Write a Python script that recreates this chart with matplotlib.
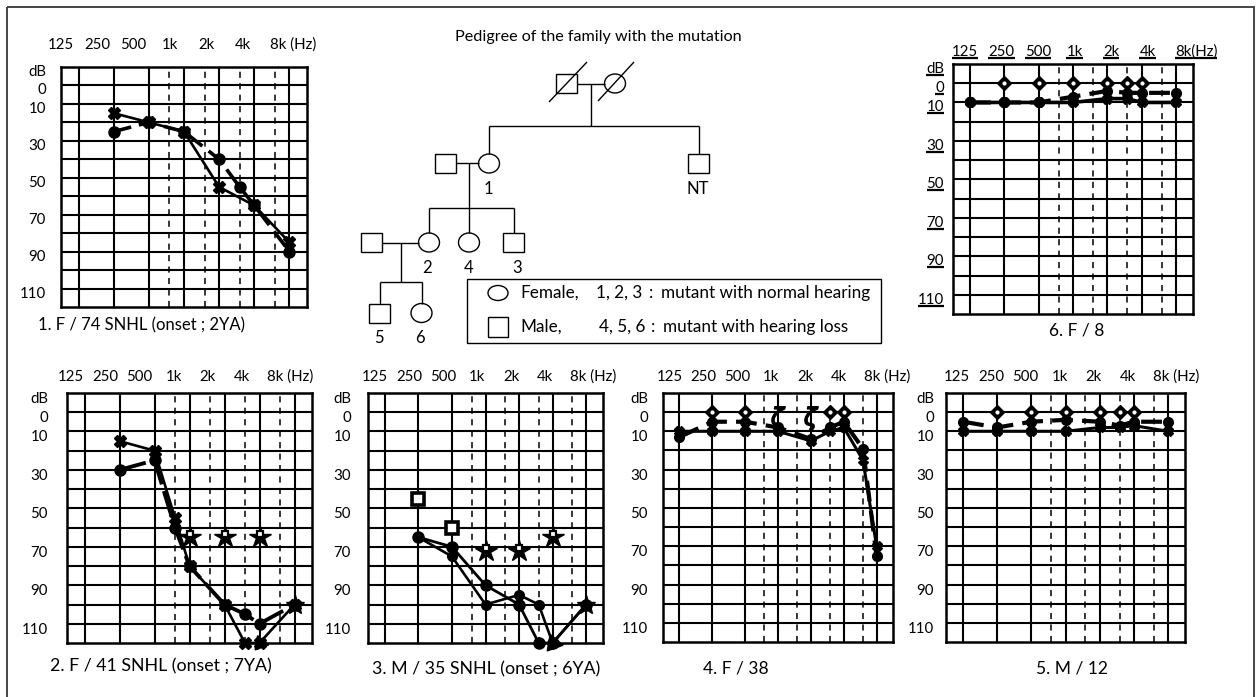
import numpy as np
import matplotlib
matplotlib.use("Agg")
import matplotlib.pyplot as plt
import matplotlib.transforms as mtransforms
from matplotlib.patches import Rectangle, Ellipse
from matplotlib.ticker import NullLocator

plt.rcParams["font.family"] = ["Lato", "DejaVu Sans"]

W, H = 1257, 697

# ------------------------------------------------------------------ data
freq_labels = ["125", "250", "500", "1k", "2k", "4k", "8k"]
db_labels = ["0", "10", "30", "50", "70", "90", "110"]
db_label_values = [0, 10, 30, 50, 70, 90, 110]
octave_freqs = [125, 250, 500, 1000, 2000, 4000, 8000]
inter_freqs = [750, 1500, 3000, 6000]
grid_levels = list(range(0, 120, 10))

# 1. F/74
p1_o_f = [250, 500, 1000, 2000, 3000, 4000, 8000]
p1_o_db = [25, 20, 25, 40, 55, 65, 90]
p1_x_f = [250, 500, 1000, 2000, 4000, 8000]
p1_x_db = [15, 20, 25, 55, 65, 85]

# 2. F/41
p2_o_f = [250, 500, 750, 1000, 2000, 3000, 4000, 8000]
p2_o_db = [30, 25, 60, 80, 100, 105, 110, 100]
p2_x_f = [250, 500, 750, 1000, 2000, 3000, 4000, 8000]
p2_x_db = [15, 20, 55, 80, 100, 120, 120, 100]
p2_mb_f = [1000, 2000, 4000]
p2_mb_db = [65, 65, 65]
p2_nr_f = [4000]
p2_nr_db = [120]
p2_st_f = [8000]
p2_st_db = [100]

# 3. M/35
p3_o_f = [250, 500, 1000, 2000, 3000, 4000, 8000]
p3_o_db = [65, 70, 90, 100, 120, 120, 100]
p3_x_f = [250, 500, 1000, 2000, 3000, 4000, 8000]
p3_x_db = [65, 75, 100, 95, 100, 120, 100]
p3_sq_f = [250, 500]
p3_sq_db = [45, 60]
p3_mb_f = [1000, 2000, 4000]
p3_mb_db = [72, 72, 65]
p3_nr_f = [4000]
p3_nr_db = [120]
p3_st_f = [8000]
p3_st_db = [100]

# 4. F/38
p4_o_f = [125, 250, 500, 1000, 2000, 3000, 4000, 6000, 8000]
p4_o_db = [13, 5, 5, 8, 14, 8, 5, 19, 75]
p4_x_f = [125, 250, 500, 1000, 2000, 3000, 4000, 6000, 8000]
p4_x_db = [10, 10, 10, 10, 15, 10, 8, 25, 70]
p4_bd_f = [250, 500, 3000, 4000]
p4_bd_db = [0, 0, 0, 0]
p4_bz_f = [1000, 2000]
p4_bz_db = [3, 3]

# 5. M/12
p5_o_f = [125, 250, 500, 1000, 2000, 3000, 4000, 8000]
p5_o_db = [5, 8, 5, 4, 5, 7, 5, 5]
p5_x_f = [125, 250, 500, 1000, 2000, 3000, 4000, 8000]
p5_x_db = [10, 10, 10, 10, 8, 8, 7, 10]
p5_bd_f = [250, 500, 1000, 2000, 3000, 4000]
p5_bd_db = [0, 0, 0, 0, 0, 0]

# 6. F/8
p6_o_f = [125, 250, 500, 1000, 2000, 3000, 4000, 8000]
p6_o_db = [10, 10, 10, 7, 4, 5, 5, 5]
p6_x_f = [125, 250, 500, 1000, 2000, 3000, 4000, 8000]
p6_x_db = [10, 10, 10, 10, 8, 8, 10, 10]
p6_bd_f = [250, 500, 1000, 2000, 3000, 4000]
p6_bd_db = [0, 0, 0, 0, 0, 0]

captions = ["1. F / 74 SNHL (onset ; 2YA)", "2. F / 41 SNHL (onset ; 7YA)",
            "3. M / 35 SNHL (onset ; 6YA)", "4. F / 38", "5. M / 12", "6. F / 8"]

# ------------------------------------------------------------------ layout
# box (l, t, r, b) px, label row y, label start, label step, ylabel gap, ylabel dy, caption (x, y, ha, size)
layout = {
    1: dict(box=(61, 67, 307, 307), ly=45, ls=61, st=36.3, gap=15, dy=5, cap=(38, 325, "left", 12.0)),
    2: dict(box=(67, 393, 312, 643), ly=377, ls=71, st=34.2, gap=19, dy=6, cap=(50, 666, "left", 12.8)),
    3: dict(box=(368, 393, 603, 643), ly=377, ls=375, st=34.0, gap=17, dy=6, cap=(372, 669, "left", 12.8)),
    4: dict(box=(663, 393, 893, 642), ly=377, ls=670, st=33.8, gap=15, dy=6, cap=(703, 669, "left", 12.5)),
    5: dict(box=(946, 393, 1185, 642), ly=377, ls=957, st=34.2, gap=12, dy=6, cap=(1072, 669, "center", 12.5)),
    6: dict(box=(953, 64, 1193, 314), ly=52, ls=965, st=36.5, gap=9, dy=5, cap=(1077, 330, "center", 12.5)),
}

fig = plt.figure(figsize=(W / 100, H / 100), dpi=100)
fig.patch.set_facecolor("white")

FS_TICK = 10.8


def make_ax(box):
    l, t, r, b = box
    ax = fig.add_axes([l / W, 1 - b / H, (r - l) / W, (b - t) / H])
    ax.set_xscale("log", base=2)
    ax.set_xlim(125 / np.sqrt(2), 8000 * np.sqrt(2))
    ax.set_ylim(120, -10)
    for a in (ax.xaxis, ax.yaxis):
        a.set_major_locator(NullLocator())
        a.set_minor_locator(NullLocator())
    for s in ax.spines.values():
        s.set_linewidth(1.8)
    for f in octave_freqs:
        ax.axvline(f, color="k", lw=1.5, zorder=1)
    for f in inter_freqs:
        ax.axvline(f, color="k", lw=1.1, ls=(0, (4, 3.5)), zorder=1)
    for d in grid_levels:
        ax.axhline(d, color="k", lw=1.5, zorder=1)
    return ax


axes = {k: make_ax(layout[k]["box"]) for k in layout}

ov = fig.add_axes([0, 0, 1, 1])
ov.set_xlim(0, W)
ov.set_ylim(H, 0)
ov.axis("off")

underline_texts = []

for k, L in layout.items():
    ax = axes[k]
    under = (k == 6)
    for i, lab in enumerate(freq_labels[:-1]):
        t = ov.text(L["ls"] + i * L["st"], L["ly"], lab, ha="center", va="center", fontsize=FS_TICK)
        if under:
            underline_texts.append(t)
    last = "8k(Hz)" if under else "8k (Hz)"
    t = ov.text(L["ls"] + 6 * L["st"] - 9, L["ly"], last, ha="left", va="center", fontsize=FS_TICK)
    if under:
        underline_texts.append(t)
    t = ax.annotate("dB", xy=(0, -10), xycoords=("axes fraction", "data"),
                    xytext=(-L["gap"], -L["dy"]), textcoords="offset pixels",
                    ha="right", va="center", fontsize=FS_TICK)
    if under:
        underline_texts.append(t)
    for v, lab in zip(db_label_values, db_labels):
        t = ax.annotate(lab, xy=(0, v), xycoords=("axes fraction", "data"),
                        xytext=(-L["gap"], -L["dy"]), textcoords="offset pixels",
                        ha="right", va="center", fontsize=FS_TICK)
        if under:
            underline_texts.append(t)
    cx, cy, ha, fs = L["cap"]
    ov.text(cx, cy, captions[k - 1], ha=ha, va="center", fontsize=fs)

# ------------------------------------------------------------------ series
O_STYLE = dict(color="k", marker="o", ms=8, lw=2.6, ls=(0, (5, 2.2)), clip_on=False, zorder=4)
X_STYLE = dict(color="k", marker="X", ms=8, lw=1.9, ls="-", clip_on=False, zorder=4)


def masked_bone(ax, f, d):
    ax.plot(f, d, ls="none", marker="*", ms=16, color="k", clip_on=False, zorder=5)
    up = ax.transData + mtransforms.ScaledTranslation(0, 3 / 100, fig.dpi_scale_trans)
    ax.plot(f, d, ls="none", marker="s", ms=4.2, mfc="white", mec="k", mew=1.6, clip_on=False, zorder=6,
            transform=up)


def diamonds(ax, f, d):
    ax.plot(f, d, ls="none", marker="D", ms=7.5, color="k", clip_on=False, zorder=5)
    ax.plot(f, d, ls="none", marker="o", ms=2, color="white", clip_on=False, zorder=6)


a = axes[1]
a.plot(p1_o_f, p1_o_db, **O_STYLE)
a.plot(p1_x_f, p1_x_db, **X_STYLE)

a = axes[2]
a.plot(p2_o_f, p2_o_db, **{**O_STYLE, "ls": (0, (7, 1.8)), "lw": 2.8})
a.plot(p2_x_f, p2_x_db, **X_STYLE)
masked_bone(a, p2_mb_f, p2_mb_db)
a.plot(p2_nr_f, p2_nr_db, ls="none", marker=(3, 0, 20), ms=12, color="k", clip_on=False, zorder=5)
a.plot(p2_st_f, p2_st_db, ls="none", marker="*", ms=14, color="k", clip_on=False, zorder=5)

a = axes[3]
a.plot(p3_o_f, p3_o_db, **{**O_STYLE, "ls": "-", "lw": 2.0})
a.plot(p3_x_f, p3_x_db, **{**X_STYLE, "marker": "o", "ms": 7})
a.plot(p3_sq_f, p3_sq_db, ls="none", marker="s", ms=9, mfc="white", mec="k", mew=2.6, clip_on=False, zorder=5)
masked_bone(a, p3_mb_f, p3_mb_db)
a.plot(p3_nr_f, p3_nr_db, ls="none", marker=(3, 0, 20), ms=14, color="k", clip_on=False, zorder=5)
a.plot(p3_st_f, p3_st_db, ls="none", marker="*", ms=14, color="k", clip_on=False, zorder=5)

a = axes[4]
a.plot(p4_o_f, p4_o_db, **{**O_STYLE, "ms": 7, "lw": 3.0})
a.plot(p4_x_f, p4_x_db, **{**X_STYLE, "ms": 7, "lw": 2.2})
diamonds(a, p4_bd_f, p4_bd_db)
a.plot(p4_bz_f, p4_bz_db, ls="none", marker=r"$\zeta$", ms=17, color="k", clip_on=False, zorder=5)

a = axes[5]
a.plot(p5_o_f, p5_o_db, **{**O_STYLE, "ms": 7, "lw": 3.0})
a.plot(p5_x_f, p5_x_db, **{**X_STYLE, "ms": 7, "lw": 2.2})
diamonds(a, p5_bd_f, p5_bd_db)

a = axes[6]
a.plot(p6_o_f, p6_o_db, **{**O_STYLE, "ms": 7, "lw": 3.0})
a.plot(p6_x_f, p6_x_db, **{**X_STYLE, "ms": 7, "lw": 2.6})
diamonds(a, p6_bd_f, p6_bd_db)

# ------------------------------------------------------------------ pedigree
LW = 1.0
SW, SH = 21, 19


def square(cx, cy, w=SW, h=SH):
    ov.add_patch(Rectangle((cx - w / 2, cy - h / 2), w, h, fill=False, lw=LW, ec="k"))


def circle(cx, cy, w=SW, h=SH):
    ov.add_patch(Ellipse((cx, cy), w, h, fill=False, lw=LW, ec="k"))


def seg(x0, y0, x1, y1, lw=LW):
    ov.plot([x0, x1], [y0, y1], color="k", lw=lw, solid_capstyle="butt")


ov.text(598, 37, "Pedigree of the family with the mutation", ha="center", va="center", fontsize=11.6)

square(566.5, 83.5)
circle(615, 83.5)
seg(549, 102, 587, 62)
seg(598, 101, 634, 62)
seg(577, 83.5, 604.5, 83.5)
seg(591, 83.5, 591, 126)
seg(489, 126, 698.5, 126)
seg(489, 126, 489, 154)
seg(698.5, 126, 698.5, 154)
circle(489, 163.5)
square(698.5, 163.5)
square(445.5, 163.5)
seg(456, 163, 478.5, 163)
seg(468.5, 163, 468.5, 233)
seg(429, 208, 513.5, 208)
seg(429, 208, 429, 233)
seg(513.5, 208, 513.5, 233)
circle(429, 242.5)
circle(469, 242.5)
square(513.5, 242.5)
square(371.5, 242.5)
seg(382, 242.5, 418.5, 242.5)
seg(401, 242.5, 401, 282)
seg(379.5, 282, 421.5, 282)
seg(379.5, 282, 379.5, 303.5)
seg(421.5, 282, 421.5, 303.5)
square(379.5, 313)
circle(421.5, 313)

for (x, y, s) in [(488, 189, "1"), (698, 189, "NT"), (427, 268, "2"), (469, 268, "4"),
                  (517, 268, "3"), (379, 338, "5"), (420, 338, "6")]:
    ov.text(x, y, s, ha="center", va="center", fontsize=12)

# legend box
ov.add_patch(Rectangle((467, 279), 414, 64, fill=False, lw=1.0, ec="k"))
circle(498, 293, 20, 15)
square(498, 327, 20, 20)
FS_LEG = 12.3
ov.text(520, 293, "Female,", ha="left", va="center", fontsize=FS_LEG)
ov.text(520, 327, "Male,", ha="left", va="center", fontsize=FS_LEG)
ov.text(642, 293, "1, 2, 3", ha="right", va="center", fontsize=FS_LEG)
ov.text(645, 327, "4, 5, 6", ha="right", va="center", fontsize=FS_LEG)
ov.text(651, 293, ":", ha="center", va="center", fontsize=FS_LEG)
ov.text(653, 327, ":", ha="center", va="center", fontsize=FS_LEG)
ov.text(661, 293, "mutant with normal hearing", ha="left", va="center", fontsize=FS_LEG)
ov.text(663, 327, "mutant with hearing loss", ha="left", va="center", fontsize=FS_LEG)

# outer frame
ov.add_patch(Rectangle((7, 7), 1247, 700, fill=False, lw=1.4, ec="#444444", clip_on=False))

# underline panel-6 labels
fig.canvas.draw()
for t in underline_texts:
    bb = t.get_window_extent()
    yb = H - bb.y0 - 1
    ov.plot([bb.x0, bb.x1], [yb, yb], color="k", lw=1.6, solid_capstyle="butt")

fig.savefig("out.png", dpi=100)
